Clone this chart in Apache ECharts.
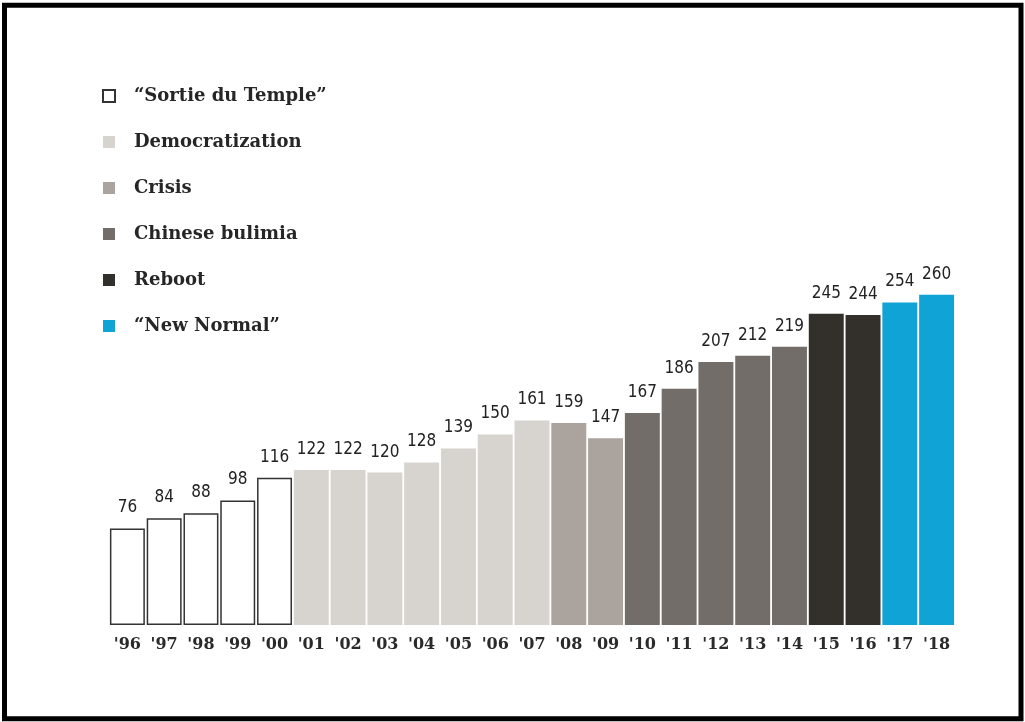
<!DOCTYPE html>
<html>
<head>
<meta charset="utf-8">
<script src="https://cdn.jsdelivr.net/npm/echarts@6/dist/echarts.min.js"></script>
<style>
html,body{margin:0;padding:0;background:#fff;}
#c{width:1025px;height:722px;}
</style>
</head>
<body>
<div id="c"></div>
<script>
var categories = ["'96","'97","'98","'99","'00","'01","'02","'03","'04","'05","'06","'07","'08","'09","'10","'11","'12","'13","'14","'15","'16","'17","'18"];
var values = [76,84,88,98,116,122,122,120,128,139,150,161,159,147,167,186,207,212,219,245,244,254,260];
var groupOf = [0,0,0,0,0,1,1,1,1,1,1,1,2,2,3,3,3,3,3,4,4,5,5];
var groupNames = ['\u201cSortie du Temple\u201d','Democratization','Crisis','Chinese bulimia','Reboot','\u201cNew Normal\u201d'];
var groupColors = ['#ffffff','#d7d3cf','#aaa39e','#736d69','#332f2b','#10a3d5'];

var labelFont = {fontFamily:'DejaVu Sans Condensed, DejaVu Sans', fontSize:17, color:'#222'};

var series = groupNames.map(function(name, g){
  return {
    name: name,
    type: 'bar',
    barGap: '-100%',
    barCategoryGap: '5%',
    data: values.map(function(v,i){ return groupOf[i]===g ? v : '-'; }),
    itemStyle: g===0 ? {color:'#ffffff', borderColor:'#333', borderWidth:1.5} : {color:groupColors[g]},
    label: Object.assign({show:true, position:'top', distance:12}, labelFont),
    emphasis: {disabled:true}
  };
});

var chart = echarts.init(document.getElementById('c'), null, {renderer:'canvas'});
chart.setOption({
  animation:false,
  backgroundColor:'#ffffff',
  grid:{left:109, right:70, bottom:97, top:244, containLabel:false},
  legend:{
    orient:'vertical', left:97, top:82,
    icon:'rect', itemWidth:12, itemHeight:12, itemGap:28,
    textStyle:{fontFamily:'DejaVu Serif', fontWeight:'bold', fontSize:18, color:'#262626', padding:[0,0,0,14]},
    selectedMode:false,
    data: groupNames
  },
  xAxis:{
    type:'category', data:categories,
    axisLine:{show:false}, axisTick:{show:false},
    axisLabel:{interval:0, hideOverlap:false, margin:12, fontFamily:'DejaVu Serif', fontWeight:'bold', fontSize:16, color:'#2a2a2a'}
  },
  yAxis:{type:'value', min:0, max:300, show:false, splitLine:{show:false}},
  series: series,
  graphic:[{
    type:'rect', silent:true, z:100,
    shape:{x:4.5, y:5.3, width:1016.5, height:713.5},
    style:{fill:null, stroke:'#000', lineWidth:5}
  }]
});
</script>
</body>
</html>
